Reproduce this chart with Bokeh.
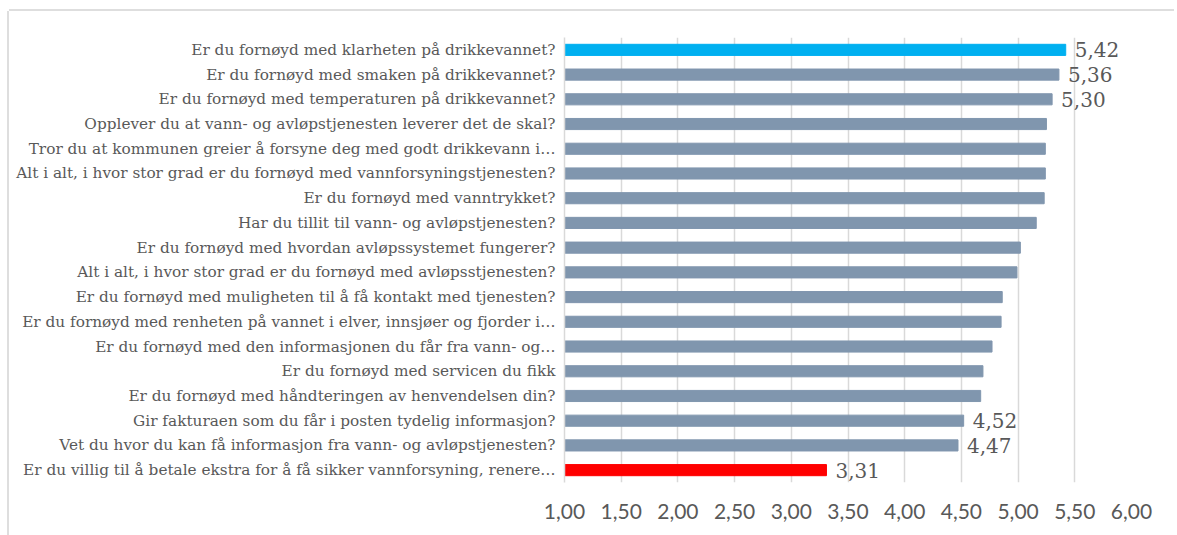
from bokeh.plotting import figure
from bokeh.models import ColumnDataSource, FactorRange, FixedTicker
from bokeh.core.properties import value
from bokeh.embed import file_html
from bokeh.resources import INLINE

categories = [
    "Er du fornøyd med klarheten på drikkevannet?",
    "Er du fornøyd med smaken på drikkevannet?",
    "Er du fornøyd med temperaturen på drikkevannet?",
    "Opplever du at vann- og avløpstjenesten leverer det de skal?",
    "Tror du at kommunen greier å forsyne deg med godt drikkevann i…",
    "Alt i alt, i hvor stor grad er du fornøyd med vannforsyningstjenesten?",
    "Er du fornøyd med vanntrykket?",
    "Har du tillit til vann- og avløpstjenesten?",
    "Er du fornøyd med hvordan avløpssystemet fungerer?",
    "Alt i alt, i hvor stor grad er du fornøyd med avløpsstjenesten?",
    "Er du fornøyd med muligheten til å få kontakt med tjenesten?",
    "Er du fornøyd med renheten på vannet i elver, innsjøer og fjorder i…",
    "Er du fornøyd med den informasjonen du får fra vann- og…",
    "Er du fornøyd med servicen du fikk",
    "Er du fornøyd med håndteringen av henvendelsen din?",
    "Gir fakturaen som du får i posten tydelig informasjon?",
    "Vet du hvor du kan få informasjon fra vann- og avløpstjenesten?",
    "Er du villig til å betale ekstra for å få sikker vannforsyning, renere…",
]
values = [5.42, 5.36, 5.30, 5.25, 5.24, 5.24, 5.23, 5.16, 5.02, 4.99,
          4.86, 4.85, 4.77, 4.69, 4.67, 4.52, 4.47, 3.31]
labeled = [0, 1, 2, 15, 16, 17]
tick_values = [1.0, 1.5, 2.0, 2.5, 3.0, 3.5, 4.0, 4.5, 5.0, 5.5, 6.0]
tick_labels = ["1,00", "1,50", "2,00", "2,50", "3,00", "3,50", "4,00", "4,50", "5,00", "5,50", "6,00"]
axis_min, axis_max = 1.0, 6.0

BASE = "#8096AE"
HIGH = "#00B0F0"
LOW = "#FF0000"
TXT = "#595959"
GRID = "#D9D9D9"

vmax, vmin = max(values), min(values)
colors = [HIGH if v == vmax else (LOW if v == vmin else BASE) for v in values]

src = ColumnDataSource(dict(cat=categories, val=values, color=colors))
lab_src = ColumnDataSource(dict(
    cat=[categories[i] for i in labeled],
    val=[values[i] for i in labeled],
    txt=[f"{values[i]:.2f}".replace(".", ",") for i in labeled],
))

# figure placed at (9, 11) on the page
p = figure(
    width=1168, height=524,
    y_range=FactorRange(factors=list(reversed(categories))),
    x_range=(axis_min, axis_max),
    output_backend="svg", toolbar_location=None,
    min_border_left=555, min_border_right=46,
    min_border_top=26, min_border_bottom=53,
)
p.styles = {"margin-left": "9px", "margin-top": "11px",
            "box-shadow": "-2px 0 0 0 #DEDEDE, 0 -2px 0 0 #DEDEDE",
            "clip-path": "inset(-3px 3px 0 -3px)"}
p.outline_line_color = None

p.hbar(y="cat", left=axis_min, right="val", height=0.45, color="color", source=src)
p.text(x="val", y="cat", text="txt", source=lab_src, x_offset=9, y_offset=0,
       text_baseline="middle", text_align="left", text_color=TXT,
       text_font=value("DejaVu Serif"), text_font_size="20px")

p.xaxis.ticker = FixedTicker(ticks=tick_values)
p.xaxis.major_label_overrides = {t: l for t, l in zip(tick_values, tick_labels)}
p.xaxis.axis_line_color = None
p.xaxis.major_tick_line_color = None
p.xaxis.minor_tick_line_color = None
p.xaxis.major_label_standoff = 15
p.xaxis.major_label_text_font = "Lato"
p.xaxis.major_label_text_font_size = "21px"
p.xaxis.major_label_text_color = TXT

p.yaxis.axis_line_color = GRID
p.yaxis.axis_line_width = 1.5
p.yaxis.major_tick_line_color = None
p.yaxis.minor_tick_line_color = None
p.yaxis.major_label_standoff = 3
p.yaxis.major_label_text_font = "DejaVu Serif"
p.yaxis.major_label_text_font_size = "15.3px"
p.yaxis.major_label_text_color = TXT

p.ygrid.grid_line_color = None
p.xgrid.grid_line_color = GRID
p.xgrid.grid_line_width = 1.5

open("out.html", "w").write(file_html(p, INLINE))
